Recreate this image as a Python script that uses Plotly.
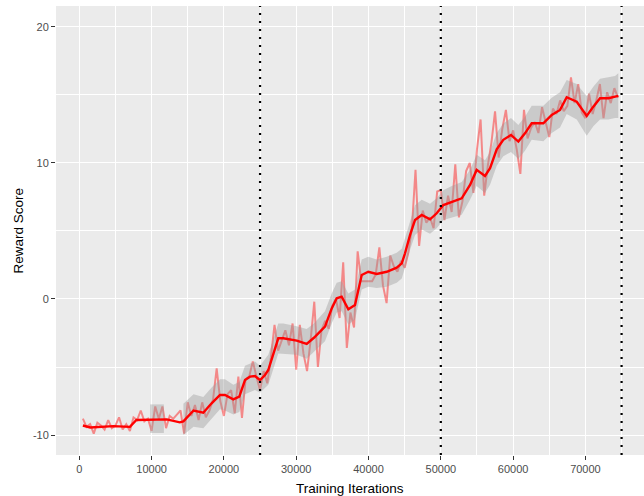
import plotly.graph_objects as go

# ---------------- data ----------------
raw_x = list(range(500, 75000, 500))
raw_y = [
    -8.8, -9.4, -9.2, -9.9, -9.1, -9.3, -9.6, -8.9, -9.5, -9.3,
    -8.7, -9.6, -9.2, -9.7, -8.7, -8.9, -8.2, -9.0, -8.8, -9.7,
    -7.9, -8.8, -7.9, -9.5, -8.6, -8.8, -8.5, -8.2, -9.9, -7.6,
    -8.6, -7.8, -8.9, -7.6, -8.7, -8.2, -7.4, -5.1, -7.5, -8.6,
    -7.0, -6.7, -8.4, -5.7, -8.75, -5.9, -5.7, -4.6, -5.7, -6.7,
    -5.3, -6.2, -4.3, -1.9, -3.8, -3.0, -2.3, -3.4, -1.8, -5.2,
    -1.9, -4.0, -5.3, -3.0, -0.2, -5.0, -2.3, -1.6, -2.2, -0.5,
    0.0, -1.4, 2.7, -3.6, -1.0, -2.1, 3.5, 1.3, 1.3, 1.3,
    1.3, 1.8, 3.8, 1.0, -0.3, 3.2, 2.4, 2.0, 2.8, 2.3,
    3.4, 5.2, 9.5, 3.9, 6.5, 5.6, 6.0, 5.2, 7.9, 8.0,
    5.8, 7.6, 6.4, 9.9, 6.0, 7.2, 9.4, 10.0, 7.8, 11.0,
    13.2, 7.6, 9.8, 11.5, 13.8, 10.4, 12.5, 13.9, 11.6, 12.4,
    11.0, 9.2, 13.9, 11.8, 12.6, 13.0, 12.2, 14.1, 12.9, 11.9,
    14.0, 13.6, 14.6, 13.8, 14.2, 16.3, 14.4, 15.8, 13.7, 13.3,
    15.1, 13.6, 14.6, 15.8, 13.3, 15.2, 14.4, 15.5, 14.8,
]

smooth_x = [500, 1500, 4700, 7000, 7900, 12100, 13900, 14400, 15800, 17150,
            18300, 19460, 20150, 21300, 22130, 22920, 23610, 24300, 24990, 25690,
            26140, 27520, 28220, 30070, 31450, 32450, 33980, 34910, 35600, 36290,
            37210, 38130, 39060, 39970, 41130, 42520, 43900, 44600, 45050, 45740,
            46430, 47360, 48510, 49430, 50350, 51510, 52890, 54040, 54960, 56110,
            56810, 57730, 58640, 59700, 60720, 61640, 62570, 64180, 65340, 66490,
            67410, 68800, 70180, 71090, 72020, 73170, 74090, 74550]
smooth_y = [-9.3, -9.45, -9.35, -9.4, -8.9, -8.85, -9.07, -9.0, -8.2, -8.36,
            -7.67, -7.06, -7.06, -7.38, -7.18, -5.96, -5.71, -5.66, -5.96, -5.59,
            -5.22, -2.89, -2.89, -3.06, -3.3, -2.85, -2.03, -0.69, 0.05, 0.17,
            -0.76, -0.44, 1.76, 2.0, 1.84, 2.0, 2.3, 2.62, 3.36, 4.7,
            5.8, 6.18, 5.86, 6.3, 6.91, 7.16, 7.4, 8.38, 9.49, 9.04,
            9.61, 11.0, 11.7, 12.06, 11.57, 12.18, 12.92, 12.92, 13.53, 13.9,
            14.83, 14.5, 13.46, 14.14, 14.76, 14.76, 14.88, 14.93]

# confidence band, first short piece
band1_x = [9800, 11700]
band1_lo = [-9.85, -9.85]
band1_hi = [-7.75, -7.75]

# confidence band, main piece
band2_x = [14400, 15800, 17150, 18300, 19460, 20150, 21300, 22130, 22920, 24300,
           24990, 26140, 27520, 28220, 30070, 31450, 32450, 33980, 34910, 35600,
           36290, 37210, 38130, 39060, 39970, 41130, 42520, 43900, 44600, 45740,
           46430, 47360, 48510, 49430, 50350, 51510, 52890, 54040, 54960, 56110,
           56810, 57730, 58640, 59700, 60720, 61640, 62570, 64180, 65340, 66490,
           67410, 68800, 70180, 71090, 72020, 73170, 74090, 74550]
band2_lo = [-10.0, -9.4, -9.5, -8.8, -8.1, -8.2, -8.5, -8.3, -7.0, -6.7,
            -6.9, -6.3, -4.0, -4.0, -4.1, -4.4, -3.9, -3.1, -1.8, -1.0,
            -0.9, -1.9, -1.5, 0.7, 0.9, 0.8, 0.9, 1.2, 1.5, 3.6,
            4.7, 5.1, 4.8, 5.2, 5.8, 6.0, 6.2, 7.3, 8.3, 7.8,
            8.4, 9.8, 10.5, 10.8, 10.3, 10.9, 11.7, 11.6, 12.2, 12.6,
            13.6, 13.2, 12.0, 12.7, 13.2, 13.2, 13.3, 13.3]
band2_hi = [-7.7, -7.0, -7.2, -6.5, -5.9, -5.9, -6.3, -6.1, -4.9, -4.6,
            -4.9, -4.1, -1.8, -1.8, -2.0, -2.2, -1.8, -0.9, 0.4, 1.2,
            1.3, 0.4, 0.7, 2.9, 3.1, 2.9, 3.1, 3.4, 3.7, 5.8,
            6.9, 7.3, 7.0, 7.4, 8.0, 8.3, 8.6, 9.5, 10.6, 10.2,
            10.8, 12.2, 12.9, 13.3, 12.8, 13.4, 14.2, 14.2, 14.8, 15.2,
            16.1, 15.8, 14.9, 15.6, 16.2, 16.3, 16.4, 16.6]

vlines = [25000, 50000, 75000]

x_ticks = [0, 10000, 20000, 30000, 40000, 50000, 60000, 70000]
y_ticks = [-10, 0, 10, 20]

x_title = "Training Iterations"
y_title = "Reward Score"

# ---------------- figure ----------------
fig = go.Figure()

fig.add_trace(go.Scatter(
    x=raw_x, y=raw_y, mode="lines",
    line=dict(color="rgba(255,0,0,0.42)", width=2.0),
    hoverinfo="skip"))

for bx, blo, bhi in [(band1_x, band1_lo, band1_hi), (band2_x, band2_lo, band2_hi)]:
    fig.add_trace(go.Scatter(
        x=bx + bx[::-1], y=bhi + blo[::-1], mode="lines",
        fill="toself", fillcolor="rgba(153,153,153,0.4)",
        line=dict(width=0, color="rgba(0,0,0,0)"),
        hoverinfo="skip"))

fig.add_trace(go.Scatter(
    x=smooth_x, y=smooth_y, mode="lines",
    line=dict(color="#FF0000", width=2.4),
    hoverinfo="skip"))

for v in vlines:
    fig.add_shape(type="line", x0=v, x1=v, y0=0, y1=1, xref="x", yref="paper",
                  line=dict(color="black", width=2.2, dash="2px,6px"), layer="above")

font_family = "Liberation Sans, Arial, sans-serif"
fig.update_layout(
    width=644, height=496,
    margin=dict(l=56, r=0, t=6, b=41, autoexpand=False),
    paper_bgcolor="white", plot_bgcolor="#EBEBEB",
    showlegend=False,
    font=dict(family=font_family, size=11, color="#4D4D4D"),
    annotations=[
        dict(text=x_title, xref="paper", yref="paper", x=0.5, y=0,
             xanchor="center", yanchor="middle", yshift=-33, showarrow=False,
             font=dict(size=13.5, color="black")),
        dict(text=y_title, xref="paper", yref="paper", x=0, y=0.5,
             xanchor="center", yanchor="middle", xshift=-38, textangle=-90,
             showarrow=False, font=dict(size=13.5, color="black")),
    ],
)
fig.update_xaxes(
    range=[-3220, 78100], tickvals=x_ticks, ticktext=[str(t) for t in x_ticks],
    showgrid=True, gridcolor="white", gridwidth=1.1, zeroline=False,
    minor=dict(showgrid=True, gridcolor="white", gridwidth=0.5, dtick=5000, tick0=5000),
    ticks="outside", ticklen=4, tickcolor="#333333", tickwidth=1,
    tickfont=dict(size=11, color="#4D4D4D"), automargin=False,
)
fig.update_yaxes(
    range=[-11.47, 21.54], tickvals=y_ticks, ticktext=[str(t) for t in y_ticks],
    showgrid=True, gridcolor="white", gridwidth=1.1, zeroline=False,
    minor=dict(showgrid=True, gridcolor="white", gridwidth=0.5, dtick=5, tick0=-5),
    ticks="outside", ticklen=4, tickcolor="#333333", tickwidth=1,
    tickfont=dict(size=11, color="#4D4D4D"), automargin=False,
)

fig.write_html("out.html", config={"displayModeBar": False},
               post_script="document.body.style.margin='0';document.body.style.overflow='hidden';")
